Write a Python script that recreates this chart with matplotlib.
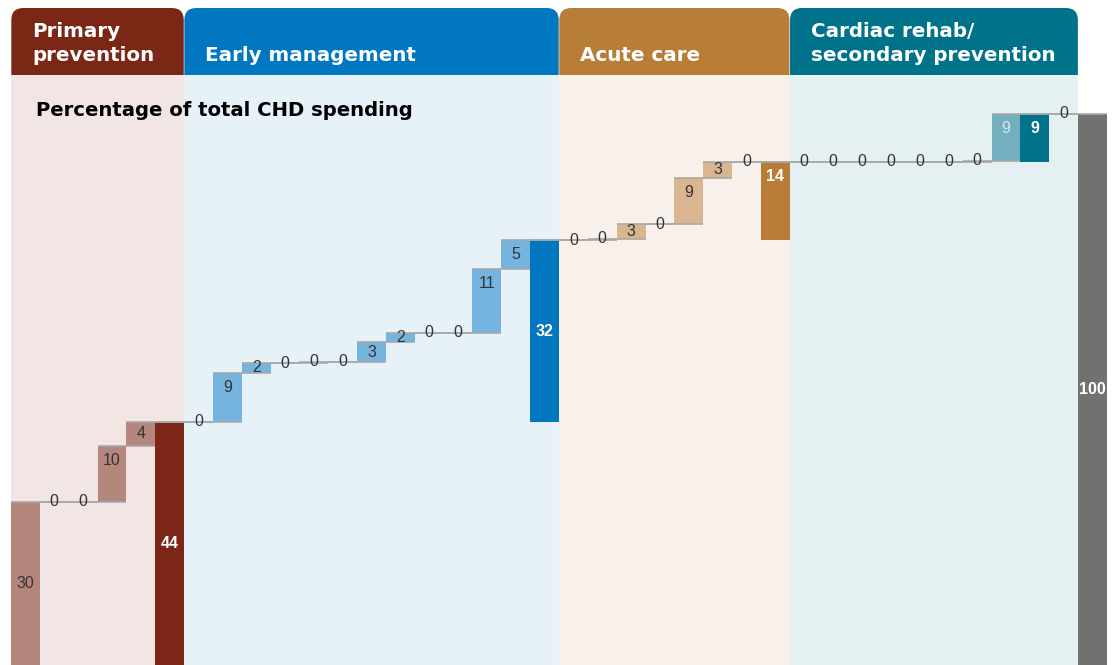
import matplotlib.pyplot as plt
from matplotlib.patches import Rectangle, FancyBboxPatch

plt.rcParams['font.family'] = ['Liberation Sans', 'DejaVu Sans']

# group names and the step values, labels as printed
groups = ["Primary\nprevention", "Early management", "Acute care",
          "Cardiac rehab/\nsecondary prevention"]
steps = [
    [29.7, 0, 0, 10.1, 4.4],
    [0, 8.9, 1.8, 0, 0.2, 0, 3.6, 1.7, 0, 0, 11.6, 5.2],
    [0, 0.3, 2.6, 0, 8.5, 2.9, 0],
    [0, 0, 0, 0, 0, 0, 0.2, 8.5],
]
step_labels = [
    [30, 0, 0, 10, 4],
    [0, 9, 2, 0, 0, 0, 3, 2, 0, 0, 11, 5],
    [0, 0, 3, 0, 9, 3, 0],
    [0, 0, 0, 0, 0, 0, 0, 9],
]
total_labels = [44, 32, 14, 9]
after_step = 0          # zero item after the cardiac subtotal
grand_label = 100

step_colors = ['#B5877C', '#74B4DE', '#D9B68F', '#73AFBF']
total_colors = ['#7B2616', '#0077C0', '#B87C36', '#00728A']
header_colors = ['#7B2716', '#0077C0', '#B87D37', '#00728A']
panel_colors = ['#F1E6E4', '#E6F1F8', '#F8F1EB', '#E5F0F2']
grand_color = '#717171'
dark = '#333333'

fig = plt.figure(figsize=(11.12, 6.65), dpi=100)
ax = fig.add_axes([11 / 1112, 0, 1096 / 1112, 1])
ymax = 665 / 5.5
ax.set_xlim(0, 38)
ax.set_ylim(0, ymax)
ax.axis('off')

# build the bar list
bars = []  # (bottom, height, color, label, text color, bold)
level = 0
spans = []
for g in range(4):
    start = len(bars)
    g_start = level
    for v, lab in zip(steps[g], step_labels[g]):
        tc = dark
        if g == 3 and lab != 0:
            tc = '#D8E8ED'
        bars.append((level, v, step_colors[g], lab, tc, False))
        level += v
    bars.append((0 if g == 0 else g_start, level - g_start, total_colors[g],
                 total_labels[g], 'white', True))
    if g == 3:
        bars.append((level, after_step, step_colors[g], after_step, dark, False))
        level += after_step
    spans.append((start, len(bars)))
bars.append((0, level, grand_color, grand_label, 'white', True))

# header tabs and panel backgrounds
hdr_bot = (665 - 75) / 5.5
hdr_top = (665 - 8) / 5.5
for g, (s, e) in enumerate(spans):
    tab = FancyBboxPatch((s + 0.01, hdr_bot - 6), e - s - 0.02, hdr_top - hdr_bot + 6,
                         boxstyle='round,pad=0,rounding_size=0.42',
                         mutation_aspect=(1096 / 38) / 5.5,
                         fc=header_colors[g], ec='none', zorder=0)
    ax.add_patch(tab)
    ax.add_patch(Rectangle((s, 0), e - s, hdr_bot, fc=panel_colors[g], ec='none', zorder=0.5))
    ax.text(s + 0.73, (665 - 65) / 5.5, groups[g], color='white', fontsize=14.3,
            family='DejaVu Sans', fontweight='bold', ha='left', va='bottom',
            linespacing=1.3, zorder=5)

# bars
for i, (b, h, c, lab, tc, bold) in enumerate(bars):
    ax.bar(i, h, bottom=b, width=1, align='edge', color=c, zorder=2)
    top = b + h
    if h == 0 or lab == 0:
        y = top
    elif h >= 20:
        y = b + h / 2
    else:
        y = top - min(h / 2, 2.7)
    ax.text(i + 0.5, y, str(lab), ha='center', va='center', fontsize=11.5,
            color=tc, fontweight='bold' if bold else 'normal', zorder=4)

# connector lines
for i in range(len(bars) - 1):
    b, h = bars[i][0], bars[i][1]
    ax.plot([i, i + 2], [b + h, b + h], color='#A8A8A8', lw=1.2, zorder=3,
            solid_capstyle='butt')

fig.text(36 / 1112, 1 - 110 / 665, 'Percentage of total CHD spending',
         fontsize=14.1, family='DejaVu Sans', fontweight='bold', color='black',
         va='center', ha='left')

fig.savefig('out.png', dpi=100)
